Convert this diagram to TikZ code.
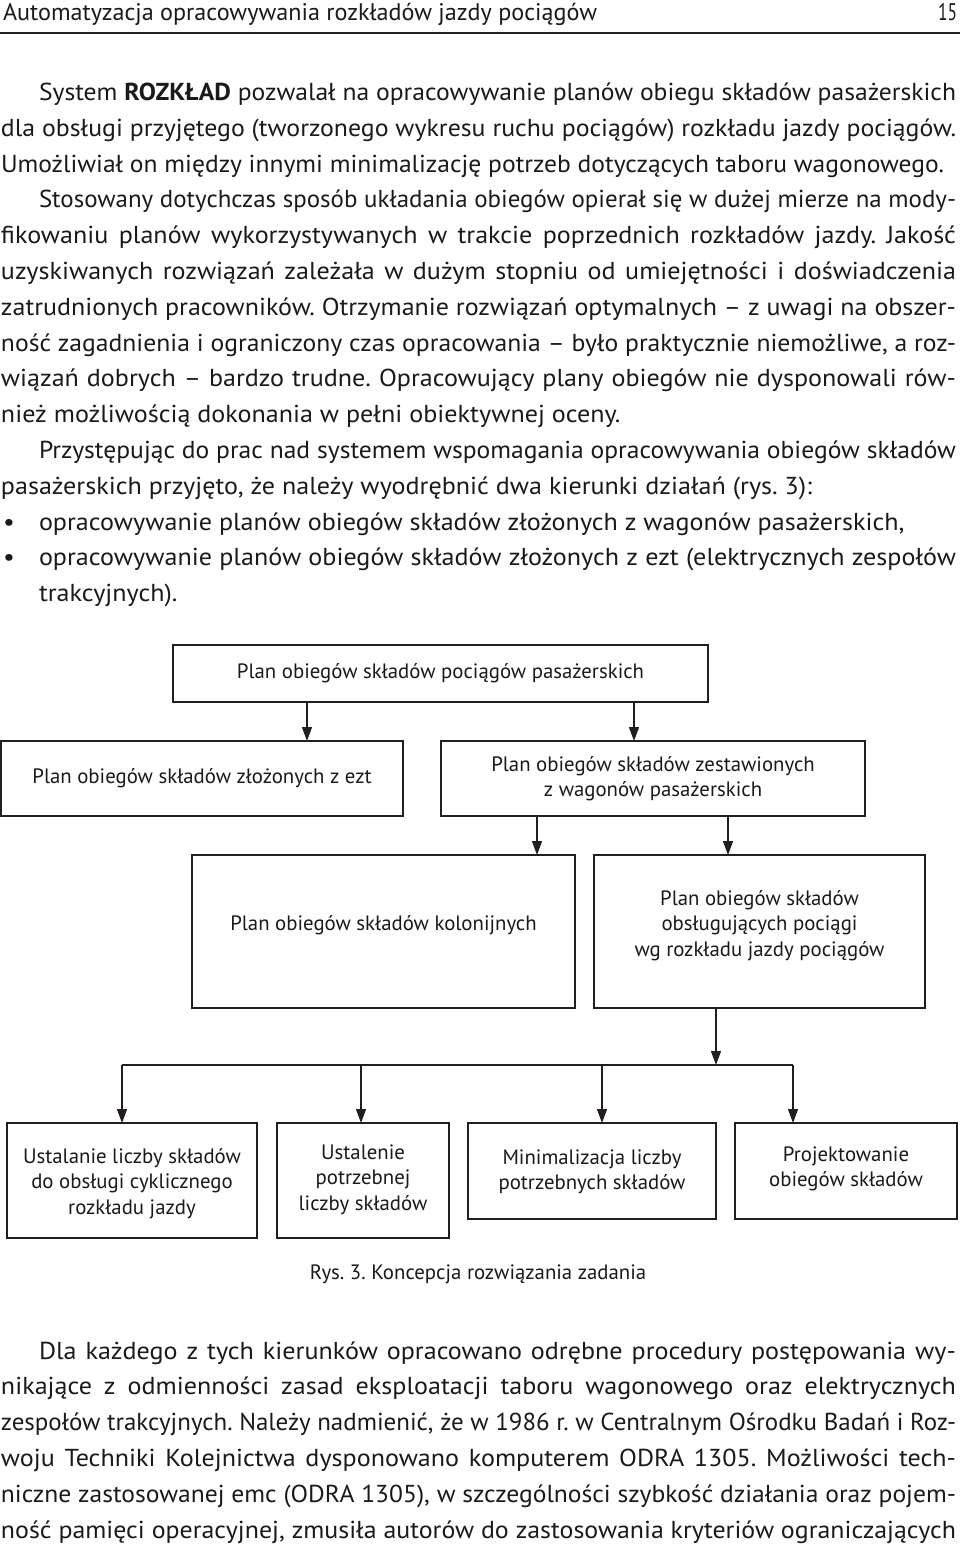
\documentclass[tikz,border=0pt]{standalone}
\usepackage{graphicx}
\usepackage{fontspec}
\setmainfont{PT Sans}[FakeStretch=1.065]
\newfontfamily\boxfam{PT Sans}
\frenchspacing
\usetikzlibrary{arrows.meta}
\definecolor{linec}{HTML}{231F20}
\definecolor{textc}{HTML}{1A1A1A}
\newsavebox\jlinebox
\newcommand\jline[2]{\sbox\jlinebox{#2}\ifdim\wd\jlinebox>#1\relax\resizebox{#1}{\height}{\usebox\jlinebox}\else\makebox[#1][s]{#2}\fi}
\newcommand\fitline[2]{\sbox\jlinebox{#2}\ifdim\wd\jlinebox>#1\relax\resizebox{#1}{\height}{\usebox\jlinebox}\else\usebox\jlinebox\fi}
\newcommand\bodyfnt{\fontsize{24.5}{35.8}\selectfont}
\newcommand\boxfnt{\boxfam\fontsize{20.8}{25.5}\selectfont}
\tikzset{
  txt/.style={anchor=base west, inner sep=0pt, outer sep=0pt, text=textc, font=\bodyfnt},
  box/.style={draw=linec, line width=1.2pt, inner sep=0pt, outer sep=0pt, align=center, text=textc, font=\boxfnt},
  lbl/.style={inner sep=0pt, outer sep=0pt, align=center, text=textc, font=\boxfnt},
  arr/.style={draw=linec, line width=1.2pt, -{Triangle[length=14pt,width=10pt]}},
  ln/.style={draw=linec, line width=1.2pt},
}
\begin{document}
\begin{tikzpicture}[x=1pt,y=-1pt]
\useasboundingbox[fill=white] (0,0) rectangle (960,1546);
% header
\node[txt, font=\boxfam\fontsize{24}{24}\selectfont] (hd) at (3,21) {\resizebox{594pt}{\height}{Automatyzacja opracowywania rozkładów jazdy pociągów}};
\node[txt, anchor=base east, font=\boxfam\fontsize{24}{24}\selectfont] (pg) at (957,21) {\resizebox{19pt}{\height}{15}};
\draw[draw=linec, line width=1.5pt] (0,33) -- (960,33);
% first paragraph
\node[txt] (t1) at (39,100.5) {\jline{917pt}{System \textbf{ROZKŁAD} pozwalał na opracowywanie planów obiegu składów pasażerskich}};
\node[txt] (t2) at (1,136.3) {\jline{955pt}{dla obsługi przyjętego (tworzonego wykresu ruchu pociągów) rozkładu jazdy pociągów.}};
\node[txt] (t3) at (1,172.1) {\fitline{943pt}{Umożliwiał on między innymi minimalizację potrzeb dotyczących taboru wagonowego.}};
\node[txt] (t4) at (39,207.9) {\jline{917pt}{Stosowany dotychczas sposób układania obiegów opierał się w dużej mierze na mody-}};
\node[txt] (t5) at (1,243.7) {\jline{955pt}{fikowaniu planów wykorzystywanych w trakcie poprzednich rozkładów jazdy. Jakość}};
\node[txt] (t6) at (1,279.5) {\jline{955pt}{uzyskiwanych rozwiązań zależała w dużym stopniu od umiejętności i doświadczenia}};
\node[txt] (t7) at (1,315.3) {\jline{955pt}{zatrudnionych pracowników. Otrzymanie rozwiązań optymalnych – z uwagi na obszer-}};
\node[txt] (t8) at (1,351.1) {\jline{955pt}{ność zagadnienia i ograniczony czas opracowania – było praktycznie niemożliwe, a roz-}};
\node[txt] (t9) at (1,386.9) {\jline{955pt}{wiązań dobrych – bardzo trudne. Opracowujący plany obiegów nie dysponowali rów-}};
\node[txt] (t10) at (1,422.7) {\fitline{635pt}{nież możliwością dokonania w pełni obiektywnej oceny.}};
\node[txt] (t11) at (39,458.5) {\jline{917pt}{Przystępując do prac nad systemem wspomagania opracowywania obiegów składów}};
\node[txt] (t12) at (1,494.3) {\fitline{816pt}{pasażerskich przyjęto, że należy wyodrębnić dwa kierunki działań (rys.~3):}};
\node[txt] (b13) at (3,530.1) {\textbullet};
\node[txt] (t13) at (39,530.1) {\fitline{874pt}{opracowywanie planów obiegów składów złożonych z wagonów pasażerskich,}};
\node[txt] (b14) at (3,565.9) {\textbullet};
\node[txt] (t14) at (39,565.9) {\jline{917pt}{opracowywanie planów obiegów składów złożonych z ezt (elektrycznych zespołów}};
\node[txt] (t15) at (39,601.7) {trakcyjnych).};
% diagram
\node[box, minimum width=535pt, minimum height=57pt] (top) at (440.5,673.5) {Plan obiegów składów pociągów pasażerskich};
\node[box, minimum width=402pt, minimum height=75pt] (l2a) at (202,778.5) {\raisebox{3pt}{Plan obiegów składów złożonych z ezt}};
\node[box, minimum width=424pt, minimum height=75pt] (l2b) at (653,778.5) {Plan obiegów składów zestawionych\\z wagonów pasażerskich};
\node[box, minimum width=383pt, minimum height=153pt] (l3a) at (383.5,931.5) {};
\node[lbl] (l3at) at ([yshift=6pt]l3a.center) {Plan obiegów składów kolonijnych};
\node[box, minimum width=331pt, minimum height=153pt] (l3b) at (759.5,931.5) {};
\node[lbl] (l3bt) at ([yshift=6pt]l3b.center) {Plan obiegów składów\\obsługujących pociągi\\wg rozkładu jazdy pociągów};
\node[box, minimum width=250pt, minimum height=115pt] (b1) at (132,1180.5) {};
\node[lbl] (b1t) at ([yshift=-3pt]b1.center) {Ustalanie liczby składów\\do obsługi cyklicznego\\rozkładu jazdy};
\node[box, minimum width=172pt, minimum height=115pt] (b2) at (363,1180.5) {};
\node[lbl] (b2t) at ([yshift=1pt]b2.center) {Ustalenie\\potrzebnej\\liczby składów};
\node[box, minimum width=248pt, minimum height=96pt] (b3) at (592,1171) {};
\node[lbl] (b3t) at ([yshift=-1pt]b3.center) {Minimalizacja liczby\\potrzebnych składów};
\node[box, minimum width=222pt, minimum height=96pt] (b4) at (846,1171) {};
\node[lbl] (b4t) at ([yshift=2pt]b4.center) {Projektowanie\\obiegów składów};
% connector positions
\coordinate (xa) at (307,0);
\coordinate (xb) at (634,0);
\coordinate (xc) at (537,0);
\coordinate (xd) at (728,0);
\coordinate (xe) at (716,0);
\coordinate (jn) at (716,1065);
\coordinate (j1) at (122,1065);
\coordinate (j2) at (361,1065);
\coordinate (j3) at (602,1065);
\coordinate (j4) at (793,1065);
\draw[arr] (top.south -| xa) -- (l2a.north -| xa);
\draw[arr] (top.south -| xb) -- (l2b.north -| xb);
\draw[arr] (l2b.south -| xc) -- (l3a.north -| xc);
\draw[arr] (l2b.south -| xd) -- (l3b.north -| xd);
\draw[arr] (l3b.south -| xe) -- (jn);
\draw[ln] (j1) -- (j4);
\draw[arr] (j1) -- (b1.north -| j1);
\draw[arr] (j2) -- (b2.north -| j2);
\draw[arr] (j3) -- (b3.north -| j3);
\draw[arr] (j4) -- (b4.north -| j4);
% caption
\node[txt, anchor=base, font=\boxfam\fontsize{20.8}{24}\selectfont] (cap) at (478,1279) {Rys. 3. Koncepcja rozwiązania zadania};
% second paragraph
\node[txt] (t16) at (39,1359) {\jline{917pt}{Dla każdego z tych kierunków opracowano odrębne procedury postępowania wy-}};
\node[txt] (t17) at (1,1394.8) {\jline{955pt}{nikające z odmienności zasad eksploatacji taboru wagonowego oraz elektrycznych}};
\node[txt] (t18) at (1,1430.6) {\jline{955pt}{zespołów trakcyjnych. Należy nadmienić, że w 1986 r. w Centralnym Ośrodku Badań i Roz-}};
\node[txt] (t19) at (1,1466.4) {\jline{955pt}{woju Techniki Kolejnictwa dysponowano komputerem ODRA 1305. Możliwości tech-}};
\node[txt] (t20) at (1,1502.2) {\jline{955pt}{niczne zastosowanej emc (ODRA 1305), w szczególności szybkość działania oraz pojem-}};
\node[txt] (t21) at (1,1538) {\jline{955pt}{ność pamięci operacyjnej, zmusiła autorów do zastosowania kryteriów ograniczających}};
\end{tikzpicture}
\end{document}
